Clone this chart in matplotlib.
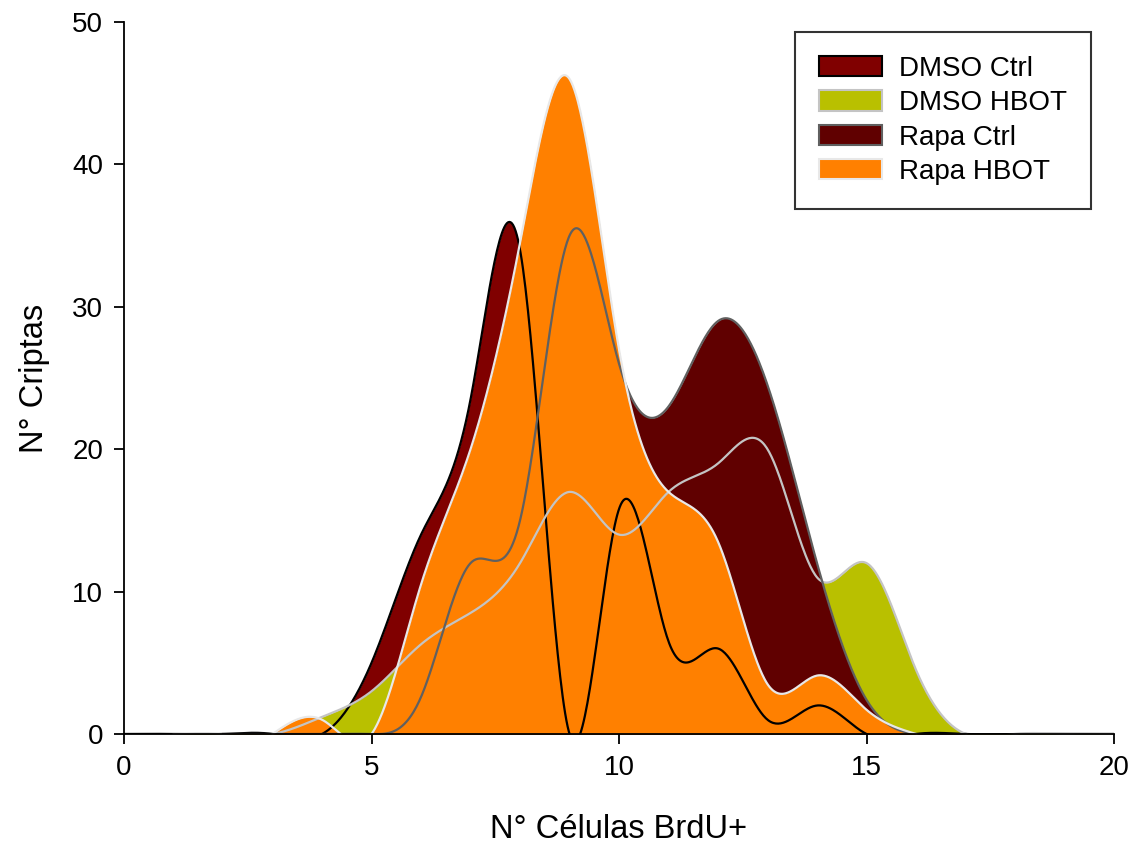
import numpy as np
import matplotlib
matplotlib.use("Agg")
import matplotlib.pyplot as plt
from matplotlib.patches import Patch

plt.rcParams['font.family'] = ['Liberation Sans', 'DejaVu Sans']

# histogram of BrdU+ cells per crypt (counts)
dmso_ctrl_x = list(range(0, 21))
dmso_ctrl_y = [0, 0, 0, 0, 0, 5, 14, 23.5, 34, 0, 15.8, 6.5, 6, 1, 2, 0, 0, 0, 0, 0, 0]

dmso_hbot_x = list(range(1, 21))
dmso_hbot_y = [0, 0, 0, 1.2, 3, 6.3, 8.5, 12, 17, 14, 17, 19, 20, 11, 12, 4.5, 0, 0, 0, 0]

rapa_ctrl_x = list(range(2, 18))
rapa_ctrl_y = [0, 0, 0, 0, 2.6, 12, 15, 35, 26, 23, 29, 24.5, 12, 2.4, 0, 0]

rapa_hbot_x = list(range(3, 17))
rapa_hbot_y = [0, 1, 0, 10.5, 20, 34.5, 46, 27, 17, 13.5, 3.5, 4.1, 1.7, 0]

names = ["DMSO Ctrl", "DMSO HBOT", "Rapa Ctrl", "Rapa HBOT"]
fills = ["#800000", "#b9c000", "#600000", "#ff8000"]
edges = ["#000000", "#c4c4c4", "#606060", "#e8e8e8"]


def natural_spline(x, y, num=800):
    x = np.asarray(x, float)
    y = np.asarray(y, float)
    n = len(x)
    h = np.diff(x)
    A = np.zeros((n, n))
    b = np.zeros(n)
    A[0, 0] = A[-1, -1] = 1
    for i in range(1, n - 1):
        A[i, i - 1] = h[i - 1]
        A[i, i] = 2 * (h[i - 1] + h[i])
        A[i, i + 1] = h[i]
        b[i] = 6 * ((y[i + 1] - y[i]) / h[i] - (y[i] - y[i - 1]) / h[i - 1])
    M = np.linalg.solve(A, b)
    t = np.linspace(x[0], x[-1], num)
    k = np.clip(np.searchsorted(x, t) - 1, 0, n - 2)
    hk = h[k]
    a = x[k + 1] - t
    c = t - x[k]
    s = (M[k] * a ** 3 + M[k + 1] * c ** 3) / (6 * hk) \
        + (y[k] / hk - M[k] * hk / 6) * a + (y[k + 1] / hk - M[k + 1] * hk / 6) * c
    return t, s


series = [(dmso_ctrl_x, dmso_ctrl_y), (dmso_hbot_x, dmso_hbot_y),
          (rapa_ctrl_x, rapa_ctrl_y), (rapa_hbot_x, rapa_hbot_y)]
curves = [natural_spline(sx, sy) for sx, sy in series]

fig = plt.figure(figsize=(11.35, 8.5), dpi=100)
ax = fig.add_axes([0.1093, 0.1365, 0.8722, 0.8376])

# fills first, outlines on top of all of them
for (t, s), fc in zip(curves, fills):
    ax.fill_between(t, 0, s, color=fc, lw=0)
for (t, s), ec in zip(curves, edges):
    ax.plot(t, s, color=ec, lw=1.6)

ax.set_xlim(0, 20)
ax.set_ylim(0, 50)
ax.set_xticks([0, 5, 10, 15, 20])
ax.set_yticks([0, 10, 20, 30, 40, 50])
for sp in ["top", "right"]:
    ax.spines[sp].set_visible(False)
for sp in ["left", "bottom"]:
    ax.spines[sp].set_linewidth(1.3)
ax.tick_params(direction="out", length=7, width=1.3, labelsize=20, pad=8)
ax.set_xlabel("N° Células BrdU+", fontsize=23.5, labelpad=24)
ax.set_ylabel("N° Criptas", fontsize=23.5, labelpad=16)

handles = [Patch(facecolor=fc, edgecolor=ec, lw=1.5) for fc, ec in zip(fills, edges)]
leg = ax.legend(handles, names, loc="upper right", bbox_to_anchor=(1091 / 1135, 1 - 32 / 850),
                bbox_transform=fig.transFigure, fontsize=20, frameon=True, fancybox=False,
                edgecolor="black", handlelength=2.3, handleheight=0.75, labelspacing=0.3,
                borderpad=0.86, handletextpad=0.6, borderaxespad=0)
leg.get_frame().set_linewidth(1.5)

fig.savefig("out.png", dpi=100)
